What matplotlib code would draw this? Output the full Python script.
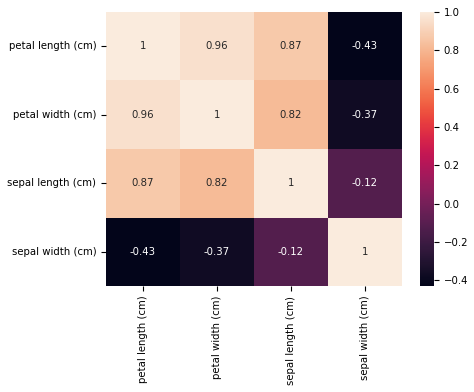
import numpy as np
import matplotlib
matplotlib.use("Agg")
import matplotlib.pyplot as plt
import seaborn as sns

features = ["petal length (cm)", "petal width (cm)", "sepal length (cm)", "sepal width (cm)"]
corr = np.array([
    [1.00, 0.96, 0.87, -0.43],
    [0.96, 1.00, 0.82, -0.37],
    [0.87, 0.82, 1.00, -0.12],
    [-0.43, -0.37, -0.12, 1.00],
])

plt.rcParams["font.size"] = 7.3
fig = plt.figure(figsize=(4.74, 3.92), dpi=100)
ax = fig.add_axes([0.2236, 0.2704, 0.6245, 0.699])
cax = fig.add_axes([0.886, 0.2704, 0.0295, 0.699])

sns.heatmap(corr, annot=True, xticklabels=features, yticklabels=features,
            ax=ax, cbar_ax=cax)
cax.set_yticks([-0.4, -0.2, 0.0, 0.2, 0.4, 0.6, 0.8, 1.0])

fig.savefig("out.png", dpi=100)
